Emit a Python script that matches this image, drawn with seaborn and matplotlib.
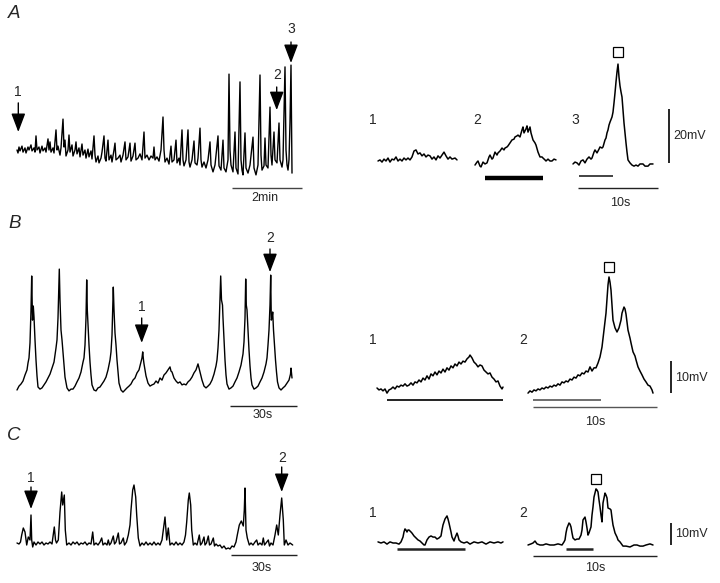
import matplotlib
matplotlib.use("Agg")
import matplotlib.pyplot as plt
import seaborn as sns

# x: recorder ticks, y: mV relative to the resting level of each trace.
A_MAIN_DT = 120 / 70     # s per tick, long recordings
B_MAIN_DT = 30 / 67
C_MAIN_DT = 30 / 66
A_INSET_DT = 10 / 80     # s per tick, expanded sweeps
BC_INSET_DT = 10 / 124

a_main_tk = [0, 1, 2, 3, 5, 6, 8, 9, 11, 12,
             14, 15, 17, 18, 19, 20, 22, 23, 25, 26,
             28, 29, 31, 32, 33, 34, 36, 37, 39, 40,
             41, 43, 44, 46, 47, 48, 49, 51, 52, 53,
             55, 56, 58, 59, 60, 62, 63, 65, 66, 68,
             69, 71, 72, 74, 75, 77, 78, 79, 81, 82,
             84, 85, 87, 88, 89, 91, 92, 94, 95, 97,
             98, 99, 101, 103, 104, 106, 108, 109, 111, 113,
             114, 116, 118, 119, 121, 123, 125, 127, 128, 130,
             132, 134, 136, 137, 138, 140, 142, 144, 146, 147,
             148, 150, 152, 154, 155, 157, 159, 160, 162, 163,
             165, 166, 167, 169, 171, 172, 173, 175, 177, 178,
             180, 181, 183, 184, 185, 187, 189, 191, 193, 194,
             196, 198, 201, 202, 204, 206, 207, 209, 211, 212,
             213, 214, 216, 218, 219, 221, 223, 224, 225, 226,
             228, 229, 231, 233, 236, 237, 239, 241, 243, 244,
             245, 247, 248, 249, 251, 253, 254, 255, 257, 258,
             260, 262, 263, 265, 266, 268, 269, 270, 271, 272,
             273, 274, 275]
a_main_mv = [0, -1, 1, -0.3, 1.3, -0.7, 0.7, -1, 1, 0,
             1.7, -0.3, 0.7, -0.7, 4.7, 0, 1, -1, 1.3, -0.3,
             0.7, -0.7, 3.7, 0, 2.7, -0.7, 0.7, -1, 6.7, 0,
             1.3, -1.7, 0.7, 10.3, 1, 3.3, -2, 0, 5, -0.7,
             1.7, -2, 0, 2.7, -1.3, 0.7, -2.3, 2, -1.7, 0,
             -2.7, 0.3, -2.3, -0.3, -3, 4.7, -1.7, -4, -2, -4.3,
             -2.7, -0.7, 4.7, -2.7, -3.7, 3.3, -3.3, -1.7, -4, 0,
             2.3, -3.3, -2.7, -1.7, -4, -1.7, 2.7, -3.3, -2.3, 2.3,
             -3.7, -2, 2.3, -3.3, -2.7, -1.3, -3.3, 6, -2.7, -1.7,
             -3.3, -2, -2.7, 1, -3.3, -2.3, -3.7, 0, 11, 0,
             -4, -2.7, -4.7, 1.3, -4, -3.3, 3.3, -4.3, -2.7, -5,
             6.7, -3.3, -5.3, -3.3, 6.7, -4, -5.7, -3.3, 3, -4.3,
             -5, -2.7, 7.3, -3.3, -5.7, -4, -6, -3.3, 2.7, -5,
             -7.3, -5, 4.7, -5.3, -6.7, 3.3, -6, -7.3, -3.3, 25.3,
             0, -5, -7.3, 6, -6, -8, 22.7, -3.3, -6.7, -8.3,
             5.7, -6, -7.7, -5, 4.3, -6, -8.3, -5, 25, -1.7,
             -6.7, -5.3, 4, -5, -6, 14.3, -1.7, -5, 6, -3.3,
             -4.3, 9, -3.3, -5.7, -3.3, 27.7, 0, -5, -6.7, -3.3,
             9.3, 28.3, -7.7]

a1_tk = [0, 2, 4, 6, 8, 10, 12, 14, 16, 18,
         20, 22, 24, 26, 28, 30, 32, 34, 36, 38,
         40, 42, 44, 46, 48, 50, 52, 54, 56, 58,
         60, 62, 64, 66, 68, 70, 72, 74, 77, 79]
a1_mv = [0, 0.4, -0.4, 0.7, 0, 1.1, -0.4, 0.7, 0.4, 1.5,
         0, 0.7, 0, 1.1, 0.4, 1.1, 0.4, 1.5, 3.7, 4.1,
         2.6, 3, 1.9, 2.6, 1.5, 2.2, 1.9, 0.7, 1.5, 0.4,
         1.9, 1.1, 2.2, 3.3, 1.9, 0.7, 1.5, 0.7, 1.1, 0.4]

a2_tk = [0, 2, 3, 5, 6, 8, 10, 12, 14, 15,
         17, 18, 20, 22, 23, 25, 27, 29, 30, 32,
         33, 35, 37, 39, 40, 42, 43, 45, 47, 48,
         49, 51, 52, 53, 55, 56, 58, 60, 61, 63,
         65, 67, 68, 70, 71, 73, 75, 77, 79, 81]
a2_mv = [-1.5, -0.4, 0, -1.9, -2.2, -0.4, -1.1, -0.7, 1.5, 2.2,
         0.7, 1.1, 3.3, 2.2, 3, 3.7, 4.8, 4.1, 4.8, 5.2,
         5.6, 6.7, 7.8, 8.1, 8.9, 9.3, 9.6, 8.9, 11.5, 12.6,
         10.4, 11.9, 13, 10.7, 12.6, 10.4, 7.8, 6.7, 5.9, 3.3,
         1.5, 1.5, 1.1, 0.4, 0, 0.7, 0, 0, 0.7, 0.4]

a3_tk = [0, 2, 4, 6, 8, 10, 12, 14, 16, 18,
         19, 21, 22, 24, 26, 27, 29, 30, 32, 33,
         34, 35, 36, 37, 39, 40, 41, 42, 43, 44,
         45, 46, 47, 48, 49, 50, 51, 52, 53, 54,
         55, 57, 59, 61, 63, 65, 67, 70, 72, 75,
         77, 80]
a3_mv = [-1.1, -0.4, -0.7, -1.5, 0, 0.4, -0.7, 0.7, 1.5, 0.7,
         1.1, 3.3, 4.1, 3, 4.4, 5.2, 4.8, 5.2, 7.8, 8.5,
         10.4, 11.5, 13.3, 14.4, 16.3, 18.1, 21.5, 25.2, 29.3, 33,
         35.9, 31.1, 27.8, 25.6, 23.7, 18.9, 14.1, 10.4, 6.7, 3.3,
         0.4, -0.7, -1.5, -1.9, -1.5, -1.9, -1.1, -1.1, -1.9, -1.9,
         -1.1, -1.1]

b_main_tk = [0, 2, 4, 6, 8, 10, 11, 12, 13, 14,
             14.7, 15.5, 16.3, 17, 18, 19, 20, 21, 23, 25,
             27, 29, 31, 33, 35, 37, 39, 40, 41, 42.3,
             43, 44, 45, 46, 47, 48, 50, 52, 54, 56,
             58, 60, 62, 64, 66, 67, 68, 69, 69.7, 70.3,
             71, 72, 73, 74, 75, 77, 79, 81, 83, 85,
             87, 89, 91, 93, 94, 95, 96.3, 97, 98, 99,
             100, 101, 102, 104, 106, 108, 110, 112, 114, 116,
             118, 120, 122, 123, 124, 125, 125.7, 126.5, 127, 128,
             129, 131, 133, 135, 137, 139, 141, 143, 145, 147,
             149, 151, 153, 154, 155, 157, 159, 161, 163, 165,
             167, 169, 171, 173, 175, 177, 179, 181, 182, 183,
             185, 187, 189, 191, 193, 195, 197, 199, 200, 201,
             202, 203, 203.7, 204.5, 205.5, 206, 207, 208, 209, 210,
             212, 214, 216, 218, 220, 222, 224, 226, 227, 228,
             228.7, 229.3, 230, 231, 232, 233, 234, 235, 237, 239,
             241, 243, 245, 247, 249, 250, 251, 252, 253, 253.7,
             254.3, 255, 255.7, 256.5, 257.5, 258.5, 259.5, 260.5, 262, 264,
             266, 268, 270, 272, 273.5, 274, 275]
b_main_mv = [0, 1.3, 2, 3, 5, 6.7, 9, 10.7, 15.7, 26.7,
             38, 23.3, 28, 24.3, 16.7, 10, 4.7, 1, 0.3, 0.7,
             1.7, 2.7, 4, 5.3, 7.3, 9.3, 14, 16.7, 24, 40.3,
             30, 20, 16.7, 12.7, 8.3, 4.3, 0.7, -0.3, 0.3, 0.3,
             1.3, 2.7, 4, 6, 9.3, 10.7, 15, 24, 36.7, 26.7,
             21.7, 15, 9.3, 5, 1.7, 0, -0.3, 0.7, 1, 2,
             3, 4.3, 6.7, 10, 12.7, 18.3, 34.3, 26.7, 19, 15,
             10, 6, 2.3, 0, -0.7, 0, 0.7, 1.3, 2, 3.3,
             4, 5.7, 6.7, 8, 9.3, 10.7, 12.7, 10, 8.7, 6.7,
             4.7, 2.3, 1.3, 1.7, 2, 3, 2.3, 4, 3.3, 5,
             5.7, 6.7, 7.7, 6.3, 6, 4, 3, 2.3, 2.7, 1.7,
             2, 1.7, 2.7, 3.3, 4.3, 5.7, 6.7, 8.7, 7.3, 6,
             3.3, 1.3, 0.7, 1.3, 2, 3.3, 5.3, 8, 10, 14,
             20, 30, 38, 30, 28.3, 24, 16.7, 10, 5, 2,
             0.3, 0.7, 1.3, 2.7, 4, 6, 8.3, 12, 16, 24,
             37, 28.3, 26.7, 20, 13.3, 8, 4, 1.7, 0.3, 0.7,
             1.3, 2.7, 4, 6, 8.7, 10.7, 15, 20, 28.3, 38.3,
             23.3, 24, 26, 20, 15, 10, 6, 2.7, 0.7, 0,
             0.7, 1.3, 2.3, 3.3, 5.3, 7.3, 4]

b1_tk = [0, 2, 4, 6, 8, 10, 12, 14, 16, 18,
         20, 22, 24, 26, 28, 30, 32, 34, 36, 38,
         40, 42, 44, 46, 48, 50, 52, 54, 56, 58,
         60, 62, 64, 66, 68, 70, 72, 74, 76, 78,
         80, 82, 84, 86, 88, 90, 92, 93, 95, 97,
         99, 101, 103, 105, 107, 109, 111, 113, 115, 117,
         119, 121, 123, 125, 126]
b1_mv = [0, -0.6, -0.3, -0.9, -0.3, -1.6, -0.6, -0.3, 0.3, -0.3,
         0.6, 0.3, 0.9, 0.6, 1.3, 0.6, 0.9, 1.6, 0.9, 1.9,
         1.6, 2.5, 1.9, 3.1, 2.5, 3.8, 2.8, 4.4, 3.8, 5,
         4.1, 5.3, 4.7, 5.9, 5, 6.3, 5.6, 6.9, 6.3, 7.5,
         6.9, 8.1, 7.5, 8.4, 8.1, 9.1, 9.7, 10.3, 9.4, 8.1,
         7.5, 6.6, 7.2, 6.9, 5.6, 5, 4.4, 4.7, 3.4, 2.8,
         1.9, 2.2, 0.6, -0.3, 0.3]

b2_tk = [0, 2, 4, 6, 8, 10, 12, 14, 16, 18,
         20, 22, 24, 26, 28, 30, 32, 34, 36, 38,
         40, 42, 44, 46, 48, 50, 52, 54, 56, 58,
         60, 62, 64, 66, 68, 70, 72, 74, 76, 78,
         80, 81, 82, 83, 84, 85, 87, 89, 91, 93,
         94, 96, 97, 98, 99, 100, 102, 103, 105, 107,
         108, 110, 112, 114, 116, 118, 120, 122, 124, 125]
b2_mv = [-1.6, -0.9, -1.3, -0.6, -0.9, -0.3, -0.6, 0, -0.3, 0.3,
         0, 0.6, 0.3, 0.9, 0.6, 1.3, 0.9, 1.9, 1.6, 2.2,
         1.9, 2.8, 2.5, 3.4, 3.1, 4.1, 3.8, 4.7, 4.4, 5.3,
         5, 6.6, 5.3, 6.3, 6.3, 7.8, 9.7, 12.8, 18.1, 23.4,
         32.2, 34.7, 33.1, 30.6, 25.9, 21.2, 18.8, 17.5, 18.8, 21.2,
         23.4, 25.3, 24.7, 23.1, 20.6, 18.1, 15.6, 14.1, 11.3, 10,
         8.8, 6.6, 5.3, 4.1, 2.8, 1.9, 0.9, 0.6, -0.6, -1.6]

c_main_tk = [0, 2, 3.5, 4.7, 6.3, 8, 9.7, 11.3, 13, 14,
             14.7, 15.7, 17, 19, 21, 23, 25, 27, 29, 31,
             33, 35, 37.3, 38.5, 39.5, 41.3, 43, 44.7, 45.7, 46.5,
             47.3, 48.3, 49.7, 52, 54, 56, 58, 60, 62, 64,
             66, 68, 70, 72, 74, 75.7, 77, 79, 81, 83,
             84.7, 86, 88, 90, 91.3, 92.5, 94, 96.3, 97.5, 99,
             101.3, 102.5, 104, 106.3, 107.5, 109.5, 111.3, 113, 114, 115.7,
             117, 118, 118.7, 119.7, 121.3, 123, 125, 127, 129, 131,
             133, 135, 137, 139, 141, 143, 145, 146.3, 148, 149.7,
             151.3, 153, 155, 157, 159, 161, 163, 165, 167, 168.5,
             169.7, 171.3, 172.3, 173.7, 174.7, 176.3, 178, 180, 182.3, 183.5,
             185, 187, 188, 189.5, 191.3, 192.5, 194, 196.3, 197.5, 199,
             201, 203, 205, 207, 209, 211.3, 213, 215, 217, 219,
             220.3, 222.3, 224.3, 226.3, 227.3, 228, 229, 230.3, 232.3, 234,
             236, 238, 239.7, 241, 243, 245, 246.3, 247.5, 249, 251.3,
             252.5, 254, 256, 258, 259.7, 261.3, 263, 264.7, 266.3, 267.3,
             269, 271, 273, 275.7]
c_main_mv = [0, -0.5, 0.5, 4, 7.5, 5.5, -1, 3, 1.5, 14,
             1.5, -2, 0.5, -1, 0.5, -0.5, 0.5, -1, 0, -0.5,
             0.5, -0.5, 8, 1.5, 0, 1.5, 15.5, 25.5, 19, 21.5,
             24, 6.5, -1, 0, -1, 0.5, -0.5, 0.5, -1, 0,
             -0.5, 0.5, -1, 0, -0.5, 5.5, -1, 0, -1, 0.5,
             2.5, -1, 0, -1, 1.5, -1, 0, 3.5, -0.5, 0.5,
             5, -0.5, 0, 2.5, -1, 0.5, 4, 9, 16.5, 26.5,
             29, 25.5, 23, 14, 2.5, -1.5, 0, -1, 0.5, -1,
             0, -1, 0.5, -1, 0, -1, 1.5, 6.5, 13, 1.5,
             7.5, -1, 0, -1, 0.5, -1, 0, -1, 0.5, 4,
             10.5, 21.5, 25, 19, 6.5, -1, 0, -1, 4, -1,
             0, 3, -1, 0, 3.5, -1, -0.5, 2.5, -1.5, -0.5,
             -1.5, -1, -2.5, -1.5, -3, -2.5, -3, -1.5, -2, 0.5,
             4, 9, 11, 8.5, 16.5, 27.5, 6.5, 2.5, -1, 0,
             -1, 0.5, 1.5, -1, 0, -1, 2.5, -1, 0, 1.5,
             -1.5, 0, -1, 4, 9, 4, 14, 22.5, 11.5, -1,
             1.5, -1, 0, -1]

c1_tk = [0, 3, 6, 9, 12, 15, 18, 21, 23, 25,
         26, 27, 28, 29, 30, 31, 33, 34, 36, 38,
         40, 42, 44, 46, 47, 49, 51, 53, 55, 57,
         59, 61, 63, 64, 65, 67, 69, 70, 71, 73,
         74, 76, 77, 79, 80, 81, 83, 86, 89, 92,
         96, 100, 104, 108, 112, 116, 120, 123, 125]
c1_mv = [0.5, 0, 0.5, -0.5, 0.5, 0, 0, -0.5, 0.5, 2.7,
         5, 6.4, 5.9, 5, 5.9, 5.9, 5, 4.5, 3.2, 2.3,
         1.4, 0.9, 0, -0.9, -0.9, 1.4, 2.7, 3.2, 2.7, 2.7,
         1.8, 2.3, 3.2, 5.9, 8.2, 10.9, 12.3, 10.9, 9.1, 5,
         2.7, 0.9, 2.3, 4.5, 3.2, 1.4, 0.5, 0, 0.5, -0.5,
         0.5, 0, 0.5, -0.5, 0.5, 0, 0.5, 0, 0.5]

c2_tk = [0, 3, 5, 7, 9, 12, 15, 18, 22, 26,
         30, 34, 36, 37, 38, 39, 41, 42, 43, 44,
         45, 47, 49, 51, 53, 54, 55, 57, 58, 59,
         60, 61, 63, 64, 65, 66, 68, 69, 70, 71,
         72, 73, 74, 75, 77, 78, 79, 80, 82, 83,
         84, 85, 87, 89, 90, 92, 95, 98, 102, 106,
         109, 112, 115, 118, 122, 125]
c2_mv = [0, 0.5, 0.9, 1.8, 0.5, 0, 0, 0.5, 0, 0,
         0.5, 0, 1.4, 2.3, 5.5, 7.7, 10, 9.5, 8.2, 5.5,
         3.2, 2.3, 2.7, 2.7, 4.5, 6.8, 11.4, 12.7, 10.5, 7.7,
         4.5, 5.5, 8.2, 13.6, 17.3, 21.8, 25.5, 25, 24.1, 20.5,
         17.3, 13.6, 10.5, 19.1, 23.6, 22.7, 21.4, 16.8, 16.4, 15.9,
         12.3, 9.1, 5.5, 3.6, 2.3, 1.4, -0.5, -0.5, -0.9, 0,
         0, -0.5, -0.5, 0, 0.5, 0]

W, H = 720, 583
sns.set_theme(style="white")
plt.rcParams['font.family'] = ['Liberation Sans', 'DejaVu Sans']

fig = plt.figure(figsize=(W / 100, H / 100), dpi=100)
fig.patch.set_facecolor("white")

# pixel overlay for free-standing labels
lab = fig.add_axes([0, 0, 1, 1])
lab.set_xlim(0, W)
lab.set_ylim(H, 0)
lab.axis("off")


def trace_axes(x0, yb, px_per_mv):
    # one tick per pixel column, trace start at x0, 0 mV at row yb
    ax = fig.add_axes([0, 0, 1, 1])
    ax.set_xlim(-x0, W - x0)
    ax.set_ylim(-(H - yb) / px_per_mv, yb / px_per_mv)
    ax.axis("off")
    return ax


def draw(ax, tk, mv, lw=1.0):
    xl, yl = ax.get_xlim(), ax.get_ylim()
    sns.lineplot(x=tk, y=mv, ax=ax, color="black", lw=lw,
                 estimator=None, sort=False, legend=False)
    ax.set_xlim(xl)
    ax.set_ylim(yl)


def arrow(ax, tk, v_top, v_tip, label, v_label):
    ax.annotate("", xy=(tk, v_tip), xytext=(tk, v_top),
                arrowprops=dict(arrowstyle="-|>,head_length=0.95,head_width=0.36",
                                mutation_scale=12, color="black", lw=1.0,
                                shrinkA=0, shrinkB=0))
    ax.text(tk, v_label, label, ha="center", va="center", fontsize=10)


def hbar(ax, t0, length, v, lw=1.0, color="#222222"):
    ax.plot([t0, t0 + length], [v, v], color=color, lw=lw, solid_capstyle="butt")


def vbar(ax, t, v0, height, lw=1.2):
    ax.plot([t, t], [v0, v0 + height], color="black", lw=lw, solid_capstyle="butt")


def peak_box(ax, t, v):
    ax.plot([t], [v], marker="s", ms=6.5, mfc="white", mec="black", mew=0.9)


# ---------------- A ----------------
ax = trace_axes(17, 150, 3.0)
draw(ax, a_main_tk, a_main_mv)
arrow(ax, 1.3, 15.7, 6.0, "1", 19.3)
arrow(ax, 259.7, 21.0, 13.3, "2", 25.0)
arrow(ax, 274, 36.0, 29.0, "3", 40.3)
hbar(ax, 215, 120 / A_MAIN_DT, -12.7, color="#444444")
ax.text(248, -15.9, "2min", ha="center", va="center", fontsize=9)

ax = trace_axes(378, 161, 2.7)
draw(ax, a1_tk, a1_mv, lw=1.1)
ax = trace_axes(475, 161, 2.7)
draw(ax, a2_tk, a2_mv, lw=1.1)
hbar(ax, 10, 58, -6.3, lw=3.2, color="black")
ax = trace_axes(573, 161, 2.7)
draw(ax, a3_tk, a3_mv, lw=1.1)
peak_box(ax, 45, 40.4)
hbar(ax, 6, 34, -5.6, lw=1.2)
hbar(ax, 5, 10 / A_INSET_DT, -10.0, lw=1.0)
ax.text(47, -15.6, "10s", ha="center", va="center", fontsize=9)
vbar(ax, 96, -0.7, 20)
ax.text(100, 9.3, "20mV", ha="left", va="center", fontsize=9)

# ---------------- B ----------------
ax = trace_axes(17, 390, 3.0)
draw(ax, b_main_tk, b_main_mv)
arrow(ax, 124.7, 24.0, 15.7, "1", 27.8)
arrow(ax, 253, 47.0, 39.3, "2", 50.8)
hbar(ax, 213, 30 / B_MAIN_DT, -5.3)
ax.text(246, -8.2, "30s", ha="center", va="center", fontsize=9)

ax = trace_axes(377, 388, 3.2)
draw(ax, b1_tk, b1_mv, lw=1.1)
hbar(ax, 10, 116, -3.75, lw=1.4)
ax = trace_axes(528, 388, 3.2)
draw(ax, b2_tk, b2_mv, lw=1.1)
peak_box(ax, 81, 37.8)
hbar(ax, 5, 68, -3.75, lw=1.2, color="#555555")
hbar(ax, 5, 10 / BC_INSET_DT, -5.9, lw=1.0, color="#555555")
ax.text(67, -10.6, "10s", ha="center", va="center", fontsize=9)
vbar(ax, 143, -1.6, 10)
ax.text(147, 3.1, "10mV", ha="left", va="center", fontsize=9)

# ---------------- C ----------------
ax = trace_axes(17, 543, 2.0)
draw(ax, c_main_tk, c_main_mv)
arrow(ax, 14, 28.0, 17.0, "1", 32.5)
arrow(ax, 264.7, 38.0, 25.5, "2", 42.5)
hbar(ax, 214, 30 / C_MAIN_DT, -6.0)
ax.text(245, -12.5, "30s", ha="center", va="center", fontsize=9)

ax = trace_axes(378, 543, 2.2)
draw(ax, c1_tk, c1_mv, lw=1.1)
hbar(ax, 19, 68, -2.7, lw=1.8)
ax = trace_axes(528, 545, 2.2)
draw(ax, c2_tk, c2_mv, lw=1.1)
peak_box(ax, 68, 30.0)
hbar(ax, 38, 27, -1.8, lw=1.8)
hbar(ax, 5, 10 / BC_INSET_DT, -5.0, lw=1.0)
ax.text(67, -10.5, "10s", ha="center", va="center", fontsize=9)
vbar(ax, 143, 0, 10)
ax.text(147, 5.0, "10mV", ha="left", va="center", fontsize=9)

# panel letters and sweep numbers
for letter, (x, y) in {"A": (14, 13), "B": (15, 223), "C": (14, 435)}.items():
    lab.text(x, y, letter, ha="center", va="center", fontsize=13.5, style="italic")
for num, (x, y) in {"1": (373, 120), "2": (477, 120), "3": (575, 120)}.items():
    lab.text(x, y, num, ha="center", va="center", fontsize=10)
for num, x in (("1", 373), ("2", 523)):
    lab.text(x, 340, num, ha="center", va="center", fontsize=10)
    lab.text(x, 513, num, ha="center", va="center", fontsize=10)

fig.savefig("out.png", dpi=100, facecolor="white")
